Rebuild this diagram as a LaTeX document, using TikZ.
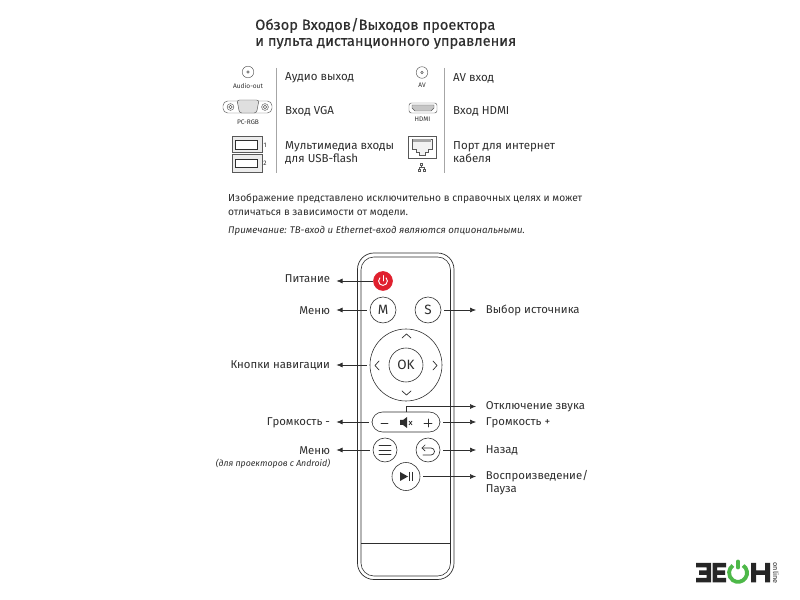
\documentclass[tikz,border=0pt]{standalone}
\usepackage{fontspec}
\setmainfont{Fira Sans}
\newfontfamily\medfont[FakeBold=0.35]{Fira Sans}
\usetikzlibrary{arrows.meta,positioning,calc}
\definecolor{inkgray}{HTML}{2E2E2E}
\definecolor{powerred}{HTML}{E0202E}
\definecolor{logogreen}{HTML}{4DB848}
\tikzset{
  every node/.style={text=inkgray},
  title/.style={anchor=west, inner sep=0pt, font=\medfont\fontsize{12.5}{13.7}\selectfont, align=left},
  caption/.style={anchor=west, inner sep=0pt, font=\fontsize{9.85}{11.2}\selectfont, align=left},
  note/.style={anchor=west, inner sep=0pt, align=left},
  tiny/.style={inner sep=0pt, font=\fontsize{5.6}{6}\selectfont},
  callr/.style={anchor=west, inner sep=0pt, outer sep=8.5pt, font=\fontsize{9.7}{11.2}\selectfont, align=left},
  calll/.style={anchor=east, inner sep=0pt, outer sep=5.5pt, font=\fontsize{9.7}{11.2}\selectfont, align=right},
  btn/.style={circle, draw=inkgray, line width=0.5pt, fill=white, inner sep=0pt, minimum size=#1*0.03cm},
  glyph/.style={draw=inkgray, line width=0.6pt, line cap=round},
  arrow/.style={-{Latex[length=1.8mm,width=1.5mm]}, line width=0.55pt, draw=inkgray, shorten <=2.5pt},
  port/.style={draw=inkgray!80, line width=0.4pt},
  divider/.style={draw=gray!70, line width=0.5pt}
}
\begin{document}
\begin{tikzpicture}[x=0.03cm,y=-0.03cm]
  \useasboundingbox (0,0) rectangle (800,600);
  \fill[white] (0,0) rectangle (800,600);

  % heading
  \node[title] (heading) at (255,33.5) {Обзор Входов/Выходов проектора\\и пульта дистанционного управления};

  % port table
  \draw[divider] (276,68)--(276,173);
  \draw[divider] (444,68)--(444,173);
  \node[caption] (audiotext) at (285,78) {Аудио выход};
  \node[caption] (vgatext) at (285,111) {Вход VGA};
  \node[caption] (usbtext) at (285,152.5) {Мультимедиа входы\\для USB-flash};
  \node[caption] (avtext) at (453,78.5) {AV вход};
  \node[caption] (hdmitext) at (453,111.5) {Вход HDMI};
  \node[caption] (lantext) at (453,152.5) {Порт для интернет\\кабеля};

  % port icons
  \draw[port] (248,72) circle (5.8) (248,72) circle (1.3);
  \node[tiny] (audiolabel) at (248,85.5) {Audio-out};
  \draw[port] (422,72.5) circle (5.8) (422,72.5) circle (1.3);
  \node[tiny] (avlabel) at (422,85.5) {AV};
  \draw[port, rounded corners=4pt] (223,101) rectangle (272,113);
  \draw[port, fill=white] (230.5,107) circle (3.4) (230.5,107) circle (1.7) (265,107) circle (3.4) (265,107) circle (1.7);
  \draw[port, fill=gray!25, rounded corners=2pt] (237,100) -- (259,100) -- (256.5,113) -- (239.5,113) -- cycle;
  \node[tiny] (vgalabel) at (248,122.5) {PC-RGB};
  \draw[port, rounded corners=2pt] (409,103) rectangle (437,113);
  \draw[port, fill=gray!45] (412,105) -- (434,105) -- (434,108) -- (431,111) -- (415,111) -- (412,108) -- cycle;
  \node[tiny] (hdmilabel) at (422.5,119.5) {HDMI};
  \draw[port, fill=gray!15] (232,136) rectangle (262,152);
  \draw[port, draw=inkgray, fill=white] (235,140) rectangle (257,149);
  \draw[port, fill=gray!15] (232,154) rectangle (262,172);
  \draw[port, draw=inkgray, fill=white] (235,159) rectangle (257,167.5);
  \node[tiny] at (265,145) {1};
  \node[tiny] at (265,163) {2};
  \draw[port] (408,136) rectangle (436,158);
  \draw[port, fill=gray!10] (412,139) -- (432,139) -- (432,149) -- (428,149) -- (428,152) -- (425,152) -- (425,155) -- (419,155) -- (419,152) -- (416,152) -- (416,149) -- (412,149) -- cycle;
  \fill[gray!70] (413,139.5) rectangle (431,142);
  \draw[port] (421.5,165) -- (421.5,167.5) (419,169) -- (419,167.5) -- (424,167.5) -- (424,169);
  \draw[port] (420.3,163) rectangle (422.7,165) (418,169) rectangle (420,171) (423,169) rectangle (425,171);

  % remark
  \node[note, font=\fontsize{8.7}{12}\selectfont] (remark) at (228,205.5) {Изображение представлено исключительно в справочных целях и может\\отличаться в зависимости от модели.};
  \node[note, font=\fontsize{8.25}{10}\selectfont\itshape] (optional) at (228,231) {Примечание: ТВ-вход и Ethernet-вход являются опциональными.};

  % remote body
  \draw[draw=inkgray, line width=0.6pt, rounded corners=14pt] (357.5,253) rectangle (454,579.5);
  \draw[draw=inkgray, line width=0.5pt, rounded corners=11pt] (361,257) rectangle (450.5,576);
  \draw[draw=inkgray, line width=0.5pt] (361,543) -- (450.5,543);

  % buttons
  \node[btn=19, fill=powerred, draw=powerred] (power) at (383,281) {};
  \draw[white, line width=0.8pt, line cap=round] (386.1,277.9) arc[start angle=-45, end angle=225, radius=4.4];
  \draw[white, line width=0.8pt, line cap=round] (383,275.5) -- (383,281);
  \node[btn=26, font=\fontsize{11.5}{12}\selectfont] (menu) at (383,310) {M};
  \node[btn=26, font=\fontsize{11.5}{12}\selectfont] (source) at (428,310) {S};
  \node[btn=72] (nav) at (406,365) {};
  \node[btn=34, font=\fontsize{11.5}{12}\selectfont] (ok) at (406,365) {OK};
  \draw[glyph] (402,338) -- (406.5,334) -- (411,338);
  \draw[glyph] (402,391) -- (406.5,395) -- (411,391);
  \draw[glyph] (379,361) -- (375,365.5) -- (379,370);
  \draw[glyph] (433,361) -- (437,365.5) -- (433,370);

  \node[draw=inkgray, line width=0.5pt, rounded corners=9pt, fill=white, minimum width=68*0.03cm, minimum height=20*0.03cm, inner sep=0pt] (volume) at (406,422) {};
  \draw[glyph] (381,423) -- (388,423);
  \draw[glyph] (424,423) -- (432,423) (428,419) -- (428,427);
  \fill[inkgray] (400,420) -- (403,420) -- (407,417) -- (407,428) -- (403,425) -- (400,425) -- cycle;
  \draw[inkgray, line width=0.6pt] (409,421) -- (412,425) (412,421) -- (409,425);
  \coordinate (mute) at (406,415);

  \node[btn=24] (list) at (385,450) {};
  \draw[glyph] (379,445.5) -- (391,445.5) (379,450) -- (391,450) (379,454.5) -- (391,454.5);
  \node[btn=24] (back) at (428,450) {};
  \draw[glyph] (422,448) -- (431,448) arc[start angle=-90, end angle=90, radius=3.5] -- (423,455);
  \draw[glyph] (425,445) -- (422,448) -- (425,451);
  \node[btn=28] (play) at (406,476.5) {};
  \fill[inkgray] (400,472) -- (408,476.5) -- (400,481) -- cycle;
  \draw[inkgray, line width=0.9pt] (409.5,472) -- (409.5,481) (412.5,472) -- (412.5,481);

  % callouts, left
  \node[calll] (powertext) at (336.5,279) {Питание};
  \node[calll] (menutext) at (336.5,311) {Меню};
  \node[calll] (navtext) at (336.5,365.5) {Кнопки навигации};
  \node[calll] (voldown) at (336.5,422.5) {Громкость -};
  \node[calll] (listtext) at (336.5,450.5) {Меню};
  \node[calll, font=\fontsize{7.5}{9}\selectfont\itshape] (androidtext) at (336.5,463.5) {(для проекторов с Android)};
  % callouts, right
  \node[callr] (sourcetext) at (476,310) {Выбор источника};
  \node[callr] (mutetext) at (476,406.5) {Отключение звука};
  \node[callr] (volup) at (476,423) {Громкость +};
  \node[callr] (backtext) at (476,450.5) {Назад};
  \node[callr] (playtext) at (476,483) {Воспроизведение/\\Пауза};

  \draw[arrow, shorten <=0pt] (power.west) -- (powertext.east |- power.west);
  \draw[arrow] (menu.west) -- (menutext.east |- menu.west);
  \draw[arrow] (nav.west) -- (navtext.east |- nav.west);
  \draw[arrow] (volume.west) -- (voldown.east |- volume.west);
  \draw[arrow] (list.west) -- (listtext.east |- list.west);
  \draw[arrow] (source.east) -- (sourcetext.west |- source.east);
  \draw[arrow] (mute) |- (mutetext.west);
  \draw[arrow] (volume.east) -- (volup.west |- volume.east);
  \draw[arrow] (back.east) -- (backtext.west |- back.east);
  \draw[arrow] (play.east) -- (playtext.west |- play.east);

  % logo
  \fill[black!85] (696,563) -- (711,563) -- (711,582.5) -- (696,582.5) -- (696,578) -- (706.5,578) -- (706.5,575) -- (699,575) -- (699,570.5) -- (706.5,570.5) -- (706.5,567.5) -- (696,567.5) -- cycle;
  \fill[black!85] (712.5,563) -- (726,563) -- (726,567.5) -- (717,567.5) -- (717,570.5) -- (725,570.5) -- (725,575) -- (717,575) -- (717,578) -- (726,578) -- (726,582.5) -- (712.5,582.5) -- cycle;
  \draw[logogreen, line width=1.15mm] (743.2,565.5) arc[start angle=-55, end angle=235, radius=9];
  \draw[logogreen, line width=1.15mm, line cap=round] (738,561.5) -- (738,567.5);
  \fill[black!85] (751,563) rectangle (756,582.5) (765,563) rectangle (770,582.5) (756,570.5) rectangle (765,575);
  \node[rotate=-90, inner sep=0pt, font=\fontsize{6.2}{6}\selectfont, text=black!85] (logotext) at (776,573) {online};
\end{tikzpicture}
\end{document}
